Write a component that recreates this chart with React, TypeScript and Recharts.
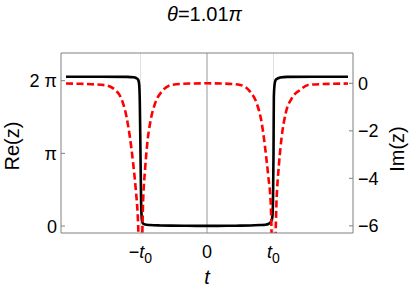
import React from 'react';
import { LineChart, Line, XAxis, YAxis, ReferenceLine } from 'recharts';

// Re(z) in units of pi, sampled along t (t0 = 1)
const tRe = [
  -2.12, -1.6, -1.2, -1.1, -1.068, -1.045, -1.033, -1.02, -1.01, -1.0, -0.99, -0.98, -0.97, -0.958, -0.93,
  -0.857, -0.7, -0.55, -0.3, 0, 0.3, 0.5, 0.65, 0.8, 0.88, 0.922, 0.95, 0.973, 0.985, 0.993, 1.0, 1.005,
  1.015, 1.03, 1.048, 1.1, 1.2, 1.6, 2.12,
];
const reValues = [
  2.055, 2.055, 2.053, 2.047, 2.037, 2.024, 2.01, 1.95, 1.7, 1.0, 0.3, 0.1, 0.05, 0.03, 0.02,
  0.014, 0.008, 0.005, 0.003, 0.002, 0.003, 0.005, 0.008, 0.014, 0.018, 0.028, 0.045, 0.083, 0.15, 0.4, 1.0, 1.78,
  1.94, 2.005, 2.024, 2.043, 2.053, 2.055, 2.055,
];

// Im(z)
const tIm = [
  -2.12, -1.9, -1.74, -1.53, -1.38, -1.28, -1.21, -1.16, -1.11, -1.07, -1.04, -1.0, -0.958, -0.932, -0.898,
  -0.847, -0.78, -0.68, -0.53, -0.26, 0, 0.26, 0.5, 0.647, 0.747, 0.823, 0.872, 0.922, 0.958, 1.0, 1.048,
  1.083, 1.123, 1.183, 1.274, 1.4, 1.52, 1.75, 2.12,
];
const imValues = [
  -0.01, -0.02, -0.04, -0.08, -0.28, -0.7, -1.41, -2.25, -3.37, -4.49, -5.62, -9, -4.77, -3.65, -2.53,
  -1.55, -0.84, -0.35, -0.07, -0.01, 0, -0.01, -0.07, -0.35, -0.84, -1.68, -2.67, -3.93, -5.05, -9, -4.77,
  -3.37, -2.25, -1.26, -0.63, -0.28, -0.07, -0.03, -0.01,
];

const xTicks = [-1, 0, 1];
const reTicks = [0, 1, 2];
const imTicks = [-6, -4, -2, 0];

const reData = tRe.map((t, i) => ({ t, re: reValues[i] }));
const imData = tIm.map((t, i) => ({ t, im: imValues[i] }));

const FONT = '"Liberation Sans", Arial, sans-serif';
const FRAME = '#808080';
const xDomain = [-2.195, 2.195];
const reDomain = [-0.096, 2.381];
const imDomain = [-6.3, 1.276];

const LeftTick = (props: any) => {
  const { x, y, payload } = props;
  const v = payload.value;
  return (
    <g>
      <line x1={x + 4} x2={x + 8} y1={y} y2={y} stroke={FRAME} />
      <text x={x} y={y} dy="0.36em" textAnchor="end" fontSize={18} fontFamily={FONT} fill="#000">
        {v === 0 ? '0' : v === 1 ? 'π' : '2 π'}
      </text>
    </g>
  );
};

const RightTick = (props: any) => {
  const { x, y, payload } = props;
  const v = payload.value;
  return (
    <g>
      <line x1={x - 5} x2={x - 9} y1={y} y2={y} stroke={FRAME} />
      <text x={x} y={y} dy="0.36em" textAnchor="start" fontSize={18} fontFamily={FONT} fill="#000">
        {v < 0 ? `−${-v}` : `${v}`}
      </text>
    </g>
  );
};

const BottomTick = (props: any) => {
  const { x, y, payload } = props;
  const v = payload.value;
  if (v === 0) {
    return (
      <text x={x} y={y + 13} textAnchor="middle" fontSize={18} fontFamily={FONT} fill="#000">0</text>
    );
  }
  return (
    <text x={x} y={y + 13} textAnchor="middle" fontSize={18} fontFamily={FONT} fill="#000">
      {v < 0 ? <tspan>−</tspan> : null}
      <tspan fontStyle="italic">t</tspan>
      <tspan fontSize={14} dy={5}>0</tspan>
    </text>
  );
};

export default function App() {
  return (
    <div style={{ position: 'absolute', left: 0, top: 0, width: 409, height: 287, background: '#fff', fontFamily: FONT }}>
      <LineChart width={409} height={287} margin={{ top: 53, right: 0, bottom: 24, left: 0 }}>
        <XAxis
          dataKey="t"
          type="number"
          domain={xDomain}
          ticks={xTicks}
          allowDataOverflow
          height={30}
          tickSize={0}
          tickMargin={12}
          tickLine={false}
          axisLine={{ stroke: FRAME }}
          tick={<BottomTick />}
        />
        <YAxis
          yAxisId="re"
          type="number"
          domain={reDomain}
          ticks={reTicks}
          allowDataOverflow
          width={61}
          tickSize={0}
          tickMargin={4}
          tickLine={false}
          axisLine={{ stroke: FRAME }}
          tick={<LeftTick />}
        />
        <YAxis
          yAxisId="im"
          orientation="right"
          type="number"
          domain={imDomain}
          ticks={imTicks}
          allowDataOverflow
          width={56}
          tickSize={0}
          tickMargin={5}
          tickLine={false}
          axisLine={{ stroke: FRAME }}
          tick={<RightTick />}
        />
        <ReferenceLine yAxisId="re" x={-1} stroke="#e0e0e0" />
        <ReferenceLine yAxisId="re" x={1} stroke="#e0e0e0" />
        <ReferenceLine yAxisId="re" x={0} stroke="#999" />
        <ReferenceLine yAxisId="re" y={reDomain[1]} stroke={FRAME} />
        <Line
          yAxisId="re"
          data={reData}
          dataKey="re"
          type="monotone"
          stroke="#000"
          strokeWidth={2.6}
          dot={false}
          isAnimationActive={false}
        />
        <Line
          yAxisId="im"
          data={imData}
          dataKey="im"
          type="monotone"
          stroke="#ff0000"
          strokeWidth={2.6}
          strokeDasharray="7 3.5"
          dot={false}
          isAnimationActive={false}
        />
      </LineChart>
      <div style={{ position: 'absolute', left: 0, width: 409, top: 3, textAlign: 'center', fontSize: 20, lineHeight: '22px' }}>
        <i>θ</i>=1.01<i>π</i>
      </div>
      <div style={{ position: 'absolute', left: 207, top: 277, fontSize: 20, lineHeight: '20px', transform: 'translate(-50%, -50%)', fontStyle: 'italic' }}>
        t
      </div>
      <div style={{ position: 'absolute', left: 12, top: 146, fontSize: 20, lineHeight: '20px', whiteSpace: 'nowrap', transform: 'translate(-50%, -50%) rotate(-90deg)' }}>
        Re(z)
      </div>
      <div style={{ position: 'absolute', left: 397, top: 149, fontSize: 20, lineHeight: '20px', whiteSpace: 'nowrap', transform: 'translate(-50%, -50%) rotate(-90deg)' }}>
        Im(z)
      </div>
    </div>
  );
}
